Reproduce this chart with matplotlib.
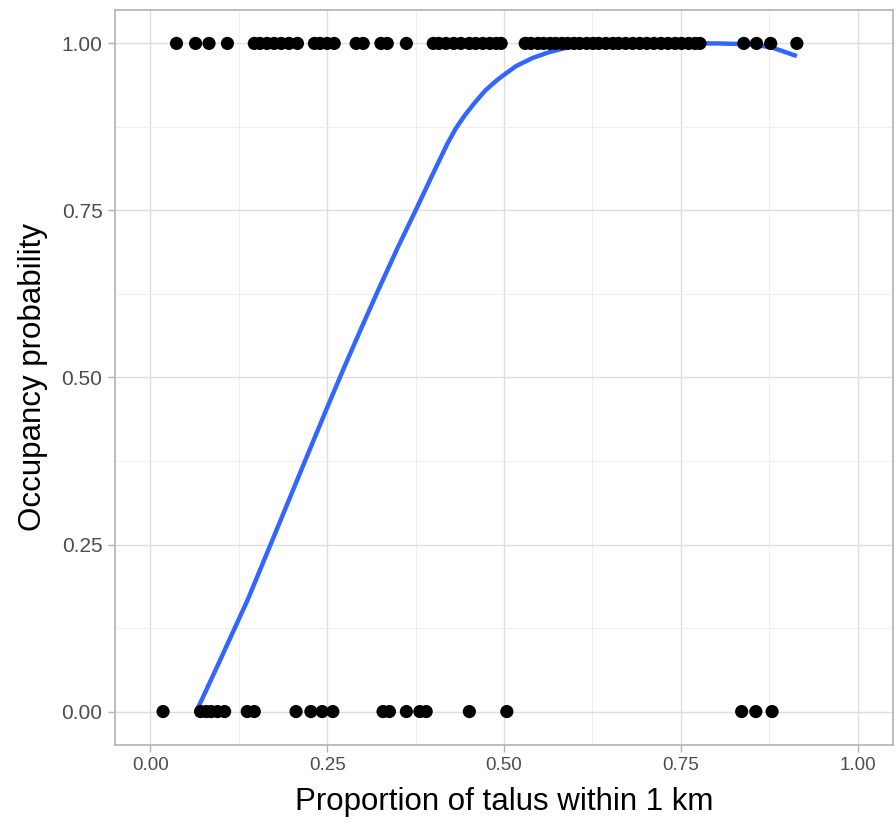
import numpy as np
import matplotlib
matplotlib.use("Agg")
import matplotlib.pyplot as plt

plt.rcParams["font.family"] = ["Liberation Sans", "DejaVu Sans"]

# Sites where the species was detected (occupancy = 1)
talus_present = [
    0.037, 0.064, 0.083, 0.109,
    0.147, 0.155, 0.165, 0.175, 0.185, 0.196, 0.208,
    0.232, 0.240, 0.250, 0.260,
    0.291, 0.301, 0.326, 0.335, 0.362,
    0.400, 0.408, 0.418, 0.429, 0.439, 0.451, 0.460, 0.470, 0.480, 0.489, 0.496,
    0.530, 0.538, 0.548, 0.556, 0.565, 0.573, 0.582, 0.590, 0.599, 0.607,
    0.617, 0.626, 0.634, 0.644, 0.654, 0.662, 0.672, 0.682, 0.692, 0.702,
    0.712, 0.722, 0.732, 0.742, 0.751, 0.761, 0.770, 0.777,
    0.839, 0.857, 0.877, 0.914,
]

# Sites where it was not detected (occupancy = 0)
talus_absent = [
    0.018, 0.071, 0.079, 0.086, 0.095, 0.105, 0.137, 0.147,
    0.206, 0.227, 0.243, 0.258,
    0.329, 0.338, 0.362, 0.381, 0.390, 0.451, 0.504,
    0.836, 0.856, 0.879,
]

# Fitted smooth of occupancy against talus proportion
smooth_x = [0.065, 0.100, 0.1375, 0.170, 0.2175, 0.250, 0.274, 0.300, 0.321,
            0.350, 0.375, 0.400, 0.420, 0.432, 0.445, 0.460, 0.474, 0.490,
            0.500, 0.517, 0.540, 0.564, 0.590, 0.620, 0.650, 0.700, 0.750,
            0.800, 0.840, 0.860, 0.878, 0.895, 0.914]
smooth_y = [0.000, 0.080, 0.167, 0.250, 0.372, 0.455, 0.515, 0.578, 0.628,
            0.695, 0.750, 0.806, 0.850, 0.873, 0.893, 0.913, 0.930, 0.945,
            0.953, 0.966, 0.978, 0.987, 0.994, 0.998, 1.000, 1.000, 1.000,
            1.000, 0.999, 0.997, 0.994, 0.988, 0.981]

fig = plt.figure(figsize=(8.96, 8.27), dpi=100)
ax = fig.add_axes([0.1283, 0.0992, 0.8684, 0.8887])

ax.scatter(talus_present, np.ones(len(talus_present)), s=90, color="black",
           edgecolors="none", zorder=3)
ax.scatter(talus_absent, np.zeros(len(talus_absent)), s=90, color="black",
           edgecolors="none", zorder=3)
ax.plot(smooth_x, smooth_y, color="#3366FF", lw=3.2, solid_joinstyle="round",
        solid_capstyle="butt", zorder=2)

ax.set_xlim(-0.05, 1.05)
ax.set_ylim(-0.05, 1.05)
ticks = [0, 0.25, 0.5, 0.75, 1.0]
tick_labels = ["0.00", "0.25", "0.50", "0.75", "1.00"]
ax.set_xticks(ticks)
ax.set_yticks(ticks)
ax.set_xticklabels(tick_labels)
ax.set_yticklabels(tick_labels)
ax.set_xticks([0.125, 0.375, 0.625, 0.875], minor=True)
ax.set_yticks([0.125, 0.375, 0.625, 0.875], minor=True)

ax.grid(which="major", color="#DEDEDE", lw=1.0)
ax.grid(which="minor", color="#EDEDED", lw=0.6)
ax.set_axisbelow(True)
ax.tick_params(which="major", length=5, width=1, color="#B3B3B3",
               labelcolor="#4D4D4D", pad=4)
ax.tick_params(axis="x", which="major", labelsize=13.5)
ax.tick_params(axis="y", which="major", labelsize=15)
ax.tick_params(which="minor", length=0)
for sp in ax.spines.values():
    sp.set_color("#B3B3B3")
    sp.set_linewidth(1.2)

ax.set_xlabel("Proportion of talus within 1 km", fontsize=22.5, labelpad=9)
ax.set_ylabel("Occupancy probability", fontsize=22.5, labelpad=10)

fig.savefig("out.png", dpi=100)
